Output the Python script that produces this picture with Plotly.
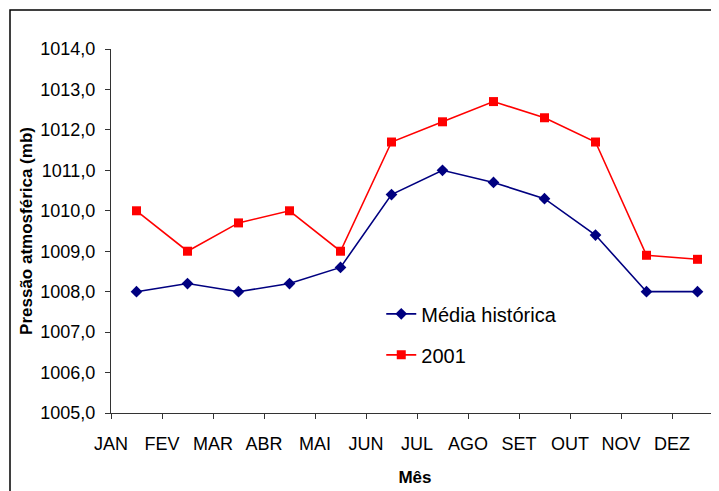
import plotly.graph_objects as go

months = ["JAN", "FEV", "MAR", "ABR", "MAI", "JUN", "JUL", "AGO", "SET", "OUT", "NOV", "DEZ"]
media_historica = [1008.0, 1008.2, 1008.0, 1008.2, 1008.6, 1010.4, 1011.0, 1010.7, 1010.3, 1009.4, 1008.0, 1008.0]
ano_2001 = [1010.0, 1009.0, 1009.7, 1010.0, 1009.0, 1011.7, 1012.2, 1012.7, 1012.3, 1011.7, 1008.9, 1008.8]
y_tick_values = [1005, 1006, 1007, 1008, 1009, 1010, 1011, 1012, 1013, 1014]
y_tick_labels = ["1005,0", "1006,0", "1007,0", "1008,0", "1009,0", "1010,0", "1011,0", "1012,0", "1013,0", "1014,0"]

# Points sit in the middle of each month slot; labels sit at slot starts (as in the original)
x_points = [i + 0.5 for i in range(len(months))]
x_ticks = list(range(len(months)))

FONT = "Liberation Sans, Arial, sans-serif"

fig = go.Figure()
fig.add_trace(go.Scatter(
    x=x_points, y=media_historica, name="Média histórica", mode="lines+markers",
    line=dict(color="#000080", width=1.6),
    marker=dict(symbol="diamond", size=9, color="#000080"),
    legendgroup="a",
))
fig.add_trace(go.Scatter(
    x=x_points, y=ano_2001, name="2001", mode="lines+markers",
    line=dict(color="#FF0000", width=1.6),
    marker=dict(symbol="square", size=9, color="#FF0000"),
    legendgroup="b",
))

fig.update_layout(
    width=711, height=483,
    margin=dict(l=103, r=0, t=41, b=78),
    paper_bgcolor="white", plot_bgcolor="white",
    font=dict(family=FONT, color="black"),
    showlegend=True,
    legend=dict(
        x=0.4445, y=0.326, xanchor="left", yanchor="top",
        font=dict(size=20, family=FONT, color="black"),
        bgcolor="rgba(0,0,0,0)", tracegroupgap=12,
    ),
    xaxis=dict(
        range=[0, 608 / 51], tickmode="array", tickvals=x_ticks, ticktext=months,
        showgrid=False, zeroline=False, showline=True, linecolor="#333333", linewidth=1,
        ticks="outside", ticklen=5, tickcolor="#333333",
        tickfont=dict(size=18, family=FONT, color="black"),
        ticklabelstandoff=9,
        title=dict(text="<b>Mês</b>", font=dict(size=17, family=FONT, color="black"), standoff=18),
    ),
    yaxis=dict(
        range=[1005, 1014], tickmode="array", tickvals=y_tick_values, ticktext=y_tick_labels,
        showgrid=False, zeroline=False, showline=True, linecolor="#333333", linewidth=1,
        ticks="outside", ticklen=5, tickcolor="#333333",
        tickfont=dict(size=18, family=FONT, color="black"),
        ticklabelstandoff=6,
        title=dict(text="<b>Pressão atmosférica (mb)</b>", font=dict(size=17, family=FONT, color="black"), standoff=3),
    ),
    shapes=[dict(
        type="rect", xref="paper", yref="paper",
        x0=(2 - 103) / 608, x1=1.05, y0=-0.3, y1=1 + 39 / 364,
        line=dict(color="black", width=1.5), fillcolor="rgba(0,0,0,0)", layer="above",
    )],
)

fig.write_html("out.html")
